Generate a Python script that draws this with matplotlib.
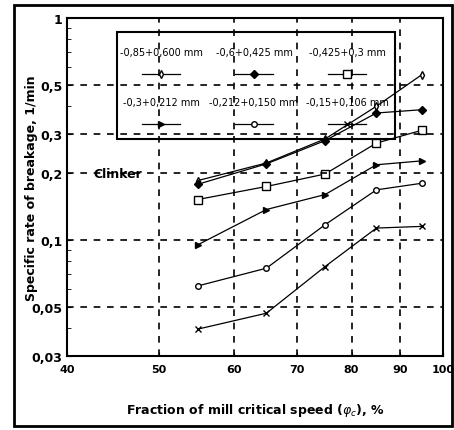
import matplotlib.pyplot as plt
from matplotlib.lines import Line2D
from matplotlib.patches import Rectangle
from matplotlib.ticker import FixedLocator, NullFormatter, NullLocator

plt.rcParams['font.family'] = ['Liberation Sans Narrow', 'DejaVu Sans Condensed', 'DejaVu Sans']

# fraction of critical speed, %
speed = [55, 65, 75, 85, 95]

# specific rate of breakage, 1/min, per size class
labels = ["-0,85+0,600 mm", "-0,6+0,425 mm", "-0,425+0,3 mm",
          "-0,3+0,212 mm", "-0,212+0,150 mm", "-0,15+0,106 mm"]
rate_850 = [0.185, 0.222, 0.285, 0.40, 0.556]
rate_600 = [0.178, 0.220, 0.280, 0.373, 0.386]
rate_425 = [0.152, 0.174, 0.198, 0.273, 0.312]
rate_300 = [0.095, 0.137, 0.160, 0.218, 0.227]
rate_212 = [0.062, 0.0745, 0.117, 0.168, 0.180]
rate_150 = [0.0396, 0.0467, 0.0758, 0.113, 0.115]

xticks = [40, 50, 60, 70, 80, 90, 100]
yticks = [0.03, 0.05, 0.1, 0.2, 0.3, 0.5, 1]
ytick_labels = ["0,03", "0,05", "0,1", "0,2", "0,3", "0,5", "1"]

styles = [
    dict(marker='d', mfc='white', ms=4),
    dict(marker='D', mfc='black', ms=4),
    dict(marker='s', mfc='white', ms=6),
    dict(marker='>', mfc='black', ms=4),
    dict(marker='o', mfc='white', ms=4),
    dict(marker='x', mfc='black', ms=5),
]
series = [rate_850, rate_600, rate_425, rate_300, rate_212, rate_150]

fig = plt.figure(figsize=(4.54, 4.31), dpi=100)
ax = fig.add_axes([0.148, 0.172, 0.828, 0.784])

for vals, st in zip(series, styles):
    ax.plot(speed, vals, color='black', lw=0.9, mec='black', mew=1, **st)

ax.set_xscale('log')
ax.set_yscale('log')
ax.set_xlim(40, 100)
ax.set_ylim(0.03, 1)
ax.xaxis.set_major_locator(FixedLocator(xticks))
ax.xaxis.set_minor_locator(NullLocator())
ax.xaxis.set_minor_formatter(NullFormatter())
ax.set_xticklabels([str(t) for t in xticks])
ax.yaxis.set_major_locator(FixedLocator(yticks))
ax.yaxis.set_minor_formatter(NullFormatter())
ax.set_yticklabels(ytick_labels)
ax.tick_params(which='both', direction='in', length=3, labelsize=9)
ax.tick_params(axis='x', labelsize=8, pad=6)
for lab in ax.get_xticklabels() + ax.get_yticklabels():
    lab.set_fontweight('bold')

for x in xticks[1:-1]:
    ax.axvline(x, color='black', ls=(0, (4, 4)), lw=1.2)
for y in yticks[1:-1]:
    ax.axhline(y, color='black', ls=(0, (4, 4)), lw=1.2)

for sp in ax.spines.values():
    sp.set_linewidth(1.5)

ax.set_xlabel("Fraction of mill critical speed ($\\varphi_c$), %", fontsize=9, fontweight='bold')
ax.set_ylabel("Specific rate of breakage, 1/min", fontsize=9, fontweight='bold',
              family='DejaVu Sans')
ax.xaxis.set_label_coords(0.5, -0.135)
ax.yaxis.set_label_coords(-0.077, 0.5)
ax.text(0.07, 0.53, "Clinker", transform=ax.transAxes, fontsize=9, fontweight='bold')

# legend laid out as in the original: label above, line sample below
ax.add_patch(Rectangle((0.133, 0.642), 0.739, 0.317, transform=ax.transAxes,
                       fill=False, ec='black', lw=1.5))
cols = [0.25, 0.497, 0.745]
rows = [(0.899, 0.834), (0.751, 0.686)]
for i, (lab, st) in enumerate(zip(labels, styles)):
    cx = cols[i % 3]
    ty, hy = rows[i // 3]
    ax.text(cx, ty, lab, transform=ax.transAxes, fontsize=7, ha='center', va='center')
    ax.add_line(Line2D([cx - 0.05, cx, cx + 0.05], [hy, hy, hy], transform=ax.transAxes,
                       color='black', lw=0.9, mec='black', markevery=[1], **st))

fig.add_artist(Rectangle((0.03, 0.01), 0.965, 0.975, transform=fig.transFigure,
                         fill=False, ec='black', lw=2))

fig.savefig("out.png", dpi=100)
